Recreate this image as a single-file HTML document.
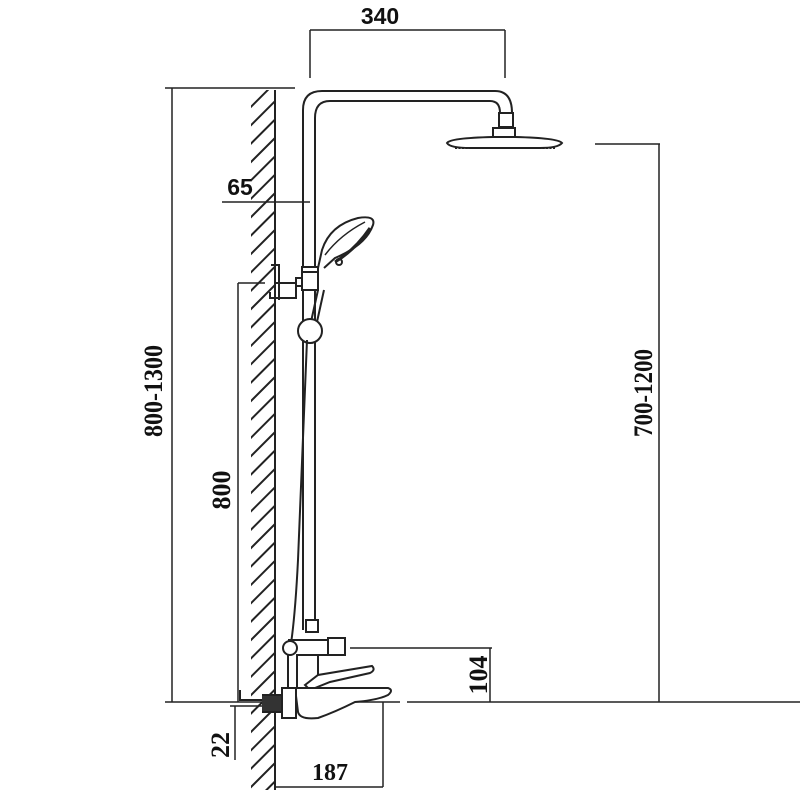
<!DOCTYPE html>
<html><head><style>html,body{margin:0;padding:0;background:#fff;}svg{display:block}</style></head>
<body>
<svg width="800" height="800" viewBox="0 0 800 800" xmlns="http://www.w3.org/2000/svg" font-family="Liberation Serif, serif">
<defs>
<pattern id="h" width="13" height="13" patternUnits="userSpaceOnUse" patternTransform="rotate(-45)">
<line x1="0" y1="6" x2="13" y2="6" stroke="#222" stroke-width="2"/>
</pattern>
</defs>
<g fill="none" stroke="#222" stroke-width="2">
<!-- wall -->
<rect x="251" y="90" width="23" height="700" fill="url(#h)" stroke="none"/>
<line x1="275" y1="90" x2="275" y2="790"/>
<!-- top dim 340 -->
<line x1="310" y1="30" x2="505" y2="30" stroke-width="1.5"/>
<line x1="310" y1="30" x2="310" y2="78" stroke-width="1.5"/>
<line x1="505" y1="30" x2="505" y2="78" stroke-width="1.5"/>
<!-- left big dim -->
<line x1="165" y1="88" x2="295" y2="88" stroke-width="1.5"/>
<line x1="172" y1="88" x2="172" y2="702" stroke-width="1.5"/>
<!-- floor -->
<line x1="165" y1="702" x2="400" y2="702" stroke-width="1.5"/>
<line x1="407" y1="702" x2="800" y2="702" stroke-width="1.5"/>
<!-- 700-1200 -->
<line x1="595" y1="144" x2="660" y2="144" stroke-width="1.5"/>
<line x1="659" y1="144" x2="659" y2="702" stroke-width="1.5"/>
<!-- 800 dim -->
<line x1="238" y1="283" x2="265" y2="283" stroke-width="1.5"/>
<line x1="238" y1="283" x2="238" y2="702" stroke-width="1.5"/>
<!-- 65 dim -->
<line x1="222" y1="202" x2="310" y2="202" stroke-width="1.5"/>
<!-- 104 -->
<line x1="350" y1="648" x2="492" y2="648" stroke-width="1.5"/>
<line x1="490" y1="648" x2="490" y2="702" stroke-width="1.5"/>
<!-- 22 -->
<line x1="235" y1="706" x2="235" y2="760" stroke-width="1.5"/>
<line x1="230" y1="706" x2="262" y2="706" stroke-width="1.5"/>
<!-- 187 -->
<line x1="276" y1="787" x2="383" y2="787" stroke-width="1.5"/>
<line x1="383" y1="702" x2="383" y2="787" stroke-width="1.5"/>
<!-- riser pipe -->
<path d="M303 630 V110 Q303 91 322 91 H495 Q512 91 512 113"/>
<path d="M315 630 V118 Q315 101 330 101 H490 Q500 101 500 113"/>
<rect x="499" y="113" width="14" height="14" fill="#fff"/>
<path d="M493 137 V128 H515 V137"/>
<path d="M447 143 Q450 138 493 137 H515 Q558 138 562 143 Q558 148 540 148 H470 Q450 148 447 143 Z" fill="#fff"/>
<line x1="455" y1="148" x2="555" y2="148" stroke-dasharray="2 1.5" stroke-width="2"/>
<!-- hand shower -->
<path d="M318 268 L322 250 Q330 225 358 218 Q376 215 373 225 Q366 245 335 258 L324 268" fill="#fff"/>
<path d="M325 255 Q340 235 365 222" stroke-width="1.5"/>
<path d="M335 262 Q355 250 370 228" stroke-width="3"/>
<circle cx="339" cy="262" r="3"/>
<path d="M318 290 L307 340"/>
<path d="M324 290 L313 340"/>
<rect x="302" y="267" width="16" height="23" fill="#fff"/>
<line x1="302" y1="272" x2="318" y2="272"/>
<rect x="296" y="278" width="6" height="8"/>
<path d="M275 283 H296 V298 H270 V292"/>
<path d="M271 265 H279 V300"/>
<circle cx="310" cy="331" r="12" fill="#fff"/>
<!-- hose -->
<path d="M307 340 L298 560 Q295 620 290 650"/>
<!-- bottom mixer -->
<rect x="306" y="620" width="12" height="12" fill="#fff"/>
<path d="M288 640 H328 V655 H296" fill="#fff"/>
<rect x="328" y="638" width="17" height="17" fill="#fff"/>
<circle cx="290" cy="648" r="7" fill="#fff"/>
<path d="M288 655 V700 M297 655 V690"/>
<path d="M318 655 V675"/>
<path d="M305 685 L318 675 L372 666 Q376 670 370 673 L330 682 L310 690 Z" fill="#fff"/>
<path d="M295 688 H388 Q394 690 388 695 Q378 700 355 702 Q335 712 318 718 Q300 720 298 712 Z" fill="#fff"/>
<rect x="282" y="688" width="14" height="30" fill="#fff"/>
<path d="M262 695 H282 V712 H262" fill="#333"/>
<path d="M240 690 V700 H262"/>
</g>
<g fill="#111" font-weight="bold">
<text x="380" y="24" font-size="23" text-anchor="middle" font-family="Liberation Sans, sans-serif">340</text>
<text x="240" y="195" font-size="23" text-anchor="middle" font-family="Liberation Sans, sans-serif">65</text>
<text x="330" y="780" font-size="24" text-anchor="middle">187</text>
<text transform="translate(162,391) rotate(-90)" font-size="26" text-anchor="middle" textLength="92" lengthAdjust="spacingAndGlyphs">800-1300</text>
<text transform="translate(230,490) rotate(-90)" font-size="26" text-anchor="middle">800</text>
<text transform="translate(652,393) rotate(-90)" font-size="26" text-anchor="middle" textLength="88" lengthAdjust="spacingAndGlyphs">700-1200</text>
<text transform="translate(487,675) rotate(-90)" font-size="26" text-anchor="middle">104</text>
<text transform="translate(229,745) rotate(-90)" font-size="26" text-anchor="middle">22</text>
</g>
</svg>
</body></html>
